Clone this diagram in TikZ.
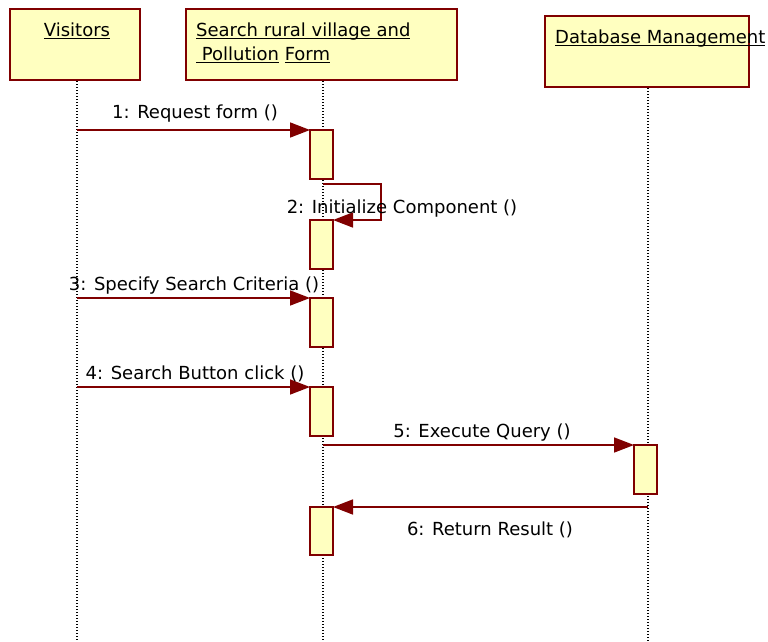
\documentclass[tikz,border=0pt]{standalone}
\usepackage{fontspec}
\setmainfont{DejaVu Sans}
\usetikzlibrary{arrows.meta}
\definecolor{mar}{HTML}{800000}
\definecolor{ylw}{HTML}{FFFFC0}
\newcommand\myul[1]{\setbox0\hbox{#1}\rlap{\rule[-2.2pt]{\wd0}{1.2pt}}\box0}
\begin{document}
\begin{tikzpicture}[x=1pt,y=-1pt,
 head/.style={draw=mar,fill=ylw,line width=2.2pt,anchor=north west,inner sep=0,outer sep=0},
 act/.style={draw=mar,fill=ylw,line width=1.8pt,minimum width=23pt,minimum height=49pt,anchor=north west,inner sep=0,outer sep=0},
 life/.style={black,line width=1.2pt,dash pattern=on 1.2pt off 1.8pt},
 msg/.style={draw=mar,line width=1.6pt,-{Triangle[length=20pt,width=15pt]}},
 lbl/.style={font=\fontsize{18}{20}\selectfont,inner sep=0,anchor=base},
 htxt/.style={font=\fontsize{18}{20}\selectfont,inner sep=0}]
\useasboundingbox[fill=white] (0,0) rectangle (768,642);
% heads
\node[head,minimum width=130pt,minimum height=71pt] (vis) at (10,9) {};
\node[head,minimum width=271pt,minimum height=71pt] (srch) at (186,9) {};
\node[head,minimum width=204pt,minimum height=71pt] (db) at (545,16) {};
\node[htxt,anchor=base] (tvis) at (77,37) {\myul{Visitors}};
\node[htxt,anchor=base west] (ts1) at (196,37) {\myul{Search rural village and}};
\node[htxt,anchor=base west] (ts2) at (196,61) {\myul{\ Pollution}\ \myul{Form}};
\node[htxt,anchor=base west] (tdb) at (555,44) {\myul{Database Management}};
% lifelines
\coordinate (lv) at (77,81);
\coordinate (ls) at (323,81);
\coordinate (ld) at (648,88);
\coordinate (lvb) at (77,642);
\coordinate (lsb) at (323,642);
\coordinate (ldb) at (648,642);
\draw[life] (lv) -- (lvb);
\draw[life] (ls) -- (lsb);
\draw[life] (ld) -- (ldb);
% activations
\node[act] (a1) at (310,130) {};
\node[act] (a2) at (310,220) {};
\node[act] (a3) at (310,298) {};
\node[act] (a4) at (310,387) {};
\node[act] (ad) at (634,445) {};
\node[act,minimum height=48pt] (a6) at (310,507) {};
% messages
\coordinate (s2) at (323,184);
\draw[msg] (lv |- a1.north west) -- (a1.north west);
\draw[msg] (s2) -- (381,184) |- (a2.north east);
\draw[msg] (lv |- a3.north west) -- (a3.north west);
\draw[msg] (lv |- a4.north west) -- (a4.north west);
\draw[msg] (ls |- ad.north west) -- (ad.north west);
\draw[msg] (ld |- a6.north east) -- (a6.north east);
% labels
\node[lbl] (l1) at (195,118) {1: Request form ()};
\node[lbl] (l2) at (402,213) {2: Initialize Component ()};
\node[lbl] (l3) at (194,290) {3: Specify Search Criteria ()};
\node[lbl] (l4) at (195,379) {4: Search Button click ()};
\node[lbl] (l5) at (482,437) {5: Execute Query ()};
\node[lbl] (l6) at (490,535) {6: Return Result ()};
\end{tikzpicture}
\end{document}
